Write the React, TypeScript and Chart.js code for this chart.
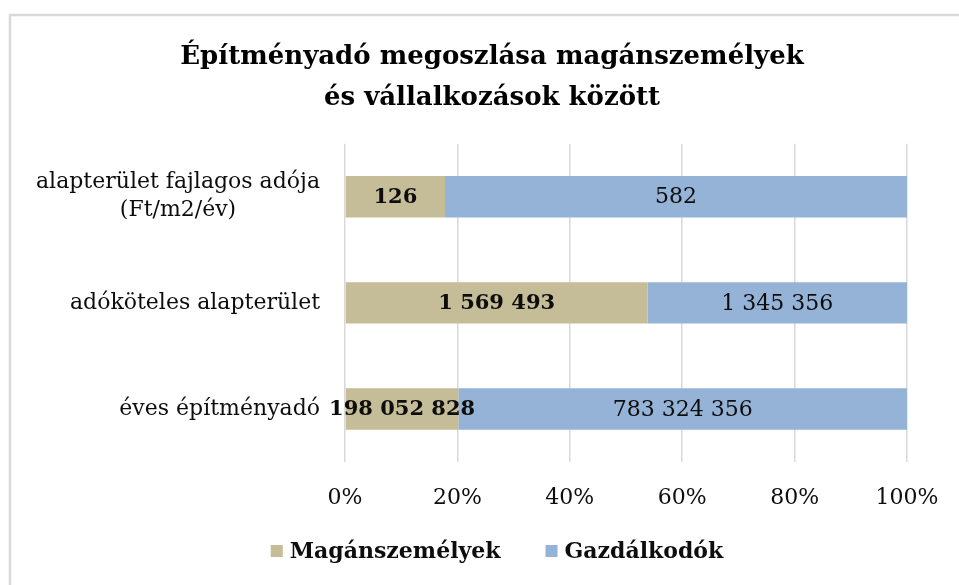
import React, { useEffect, useRef } from "react";
import { Chart, registerables } from "chart.js";

Chart.register(...registerables);

const categories: string[][] = [
  ["alapterület fajlagos adója", "(Ft/m2/év)"],
  ["adóköteles alapterület"],
  ["éves építményadó"],
];
const seriesNames = ["Magánszemélyek", "Gazdálkodók"];
const maganValues = [126, 1569493, 198052828];
const gazdValues = [582, 1345356, 783324356];
const xTickValues = [0, 20, 40, 60, 80, 100];
const titleLines = ["Építményadó megoszlása magánszemélyek", "és vállalkozások között"];
const seriesColors = ["#C4BD97", "#95B3D7"];

const FONT = "'DejaVu Serif', serif";
const TEXT = "#0d0d0d";

const fmt = (n: number) => String(n).replace(/\B(?=(\d{3})+(?!\d))/g, " ");
const rawSeries = [maganValues, gazdValues];
const pct = (arr: number[]) =>
  arr.map((v, i) => (v / (maganValues[i] + gazdValues[i])) * 100);

const customPlugin = {
  id: "customDecor",
  beforeDraw(chart: any) {
    const ctx = chart.ctx;
    ctx.save();
    ctx.fillStyle = "#ffffff";
    ctx.fillRect(0, 0, chart.width, chart.height);
    ctx.strokeStyle = "#d9d9d9";
    ctx.lineWidth = 2.5;
    ctx.beginPath();
    ctx.moveTo(10, chart.height + 5);
    ctx.lineTo(10, 15);
    ctx.lineTo(chart.width + 5, 15);
    ctx.stroke();
    ctx.restore();
  },
  afterDatasetsDraw(chart: any) {
    const ctx = chart.ctx;
    ctx.save();
    ctx.textAlign = "center";
    ctx.textBaseline = "middle";
    ctx.fillStyle = TEXT;
    chart.data.datasets.forEach((ds: any, di: number) => {
      const meta = chart.getDatasetMeta(di);
      ctx.font = di === 0 ? `bold 21px ${FONT}` : `22px ${FONT}`;
      meta.data.forEach((bar: any, i: number) => {
        const x = (bar.x + bar.base) / 2;
        ctx.fillText(fmt(rawSeries[di][i]), x, bar.y + 1);
      });
    });
    ctx.restore();
  },
  afterDraw(chart: any) {
    const ctx = chart.ctx;
    const area = chart.chartArea;
    const yScale = chart.scales.y;
    ctx.save();
    ctx.fillStyle = TEXT;
    ctx.textBaseline = "middle";
    ctx.textAlign = "center";
    ctx.font = `22px ${FONT}`;
    const right = area.left - 25;
    const lineH = 28;
    (chart.data.labels as string[][]).forEach((lines, i) => {
      const cy = yScale.getPixelForValue(i);
      const maxW = Math.max(...lines.map((l) => ctx.measureText(l).width));
      lines.forEach((l, j) => {
        ctx.fillText(l, right - maxW / 2, cy + (j - (lines.length - 1) / 2) * lineH);
      });
    });

    // legend
    ctx.font = `bold 22px ${FONT}`;
    ctx.textAlign = "left";
    const box = 12;
    const boxGap = 7;
    const gap = 45;
    const widths = seriesNames.map((n) => box + boxGap + ctx.measureText(n).width);
    const total = widths.reduce((a, b) => a + b, 0) + gap * (widths.length - 1);
    let x = 497 - total / 2;
    const ly = 551;
    seriesNames.forEach((n, i) => {
      ctx.fillStyle = seriesColors[i];
      ctx.fillRect(x, ly - box / 2, box, box);
      ctx.fillStyle = TEXT;
      ctx.fillText(n, x + box + boxGap, ly + 1);
      x += widths[i] + gap;
    });
    ctx.restore();
  },
};

export default function App() {
  const ref = useRef<HTMLCanvasElement>(null);
  useEffect(() => {
    if (!ref.current) return;
    const chart = new Chart(ref.current, {
      type: "bar",
      data: {
        labels: categories as any,
        datasets: seriesNames.map((name, i) => ({
          label: name,
          data: pct(rawSeries[i]),
          backgroundColor: seriesColors[i],
          borderWidth: 0,
          barPercentage: 0.39,
          categoryPercentage: 1,
        })),
      },
      options: {
        indexAxis: "y",
        animation: false,
        responsive: false,
        devicePixelRatio: 1,
        layout: { padding: { left: 77, right: 52, top: 14, bottom: 73 } },
        plugins: {
          legend: { display: false },
          tooltip: { enabled: false },
          title: {
            display: true,
            text: titleLines,
            color: "#000",
            font: { family: FONT, size: 26, weight: "bold", lineHeight: 1.57 },
            padding: { top: 23, bottom: 25 },
          },
        },
        scales: {
          x: {
            stacked: true,
            min: 0,
            max: 100,
            afterBuildTicks: (s: any) => {
              s.ticks = xTickValues.map((v) => ({ value: v }));
            },
            afterFit: (s: any) => {
              s.height = 50;
              s.paddingLeft = 0;
              s.paddingRight = 0;
            },
            ticks: {
              callback: (v: any) => `${v}%`,
              color: TEXT,
              font: { family: FONT, size: 22 },
              padding: 23,
              maxRotation: 0,
            },
            grid: { color: "#d9d9d9", lineWidth: 1.5, drawTicks: false },
            border: { display: false },
          },
          y: {
            stacked: true,
            afterFit: (s: any) => {
              s.width = 268;
            },
            ticks: { display: false },
            grid: { display: false },
            border: { display: false },
          },
        },
      },
      plugins: [customPlugin],
    });
    return () => chart.destroy();
  }, []);
  return (
    <div style={{ position: "fixed", left: 0, top: 0, width: 959, height: 585, overflow: "hidden", background: "#fff" }}>
      <canvas ref={ref} width={959} height={585} style={{ display: "block", width: 959, height: 585 }} />
    </div>
  );
}
